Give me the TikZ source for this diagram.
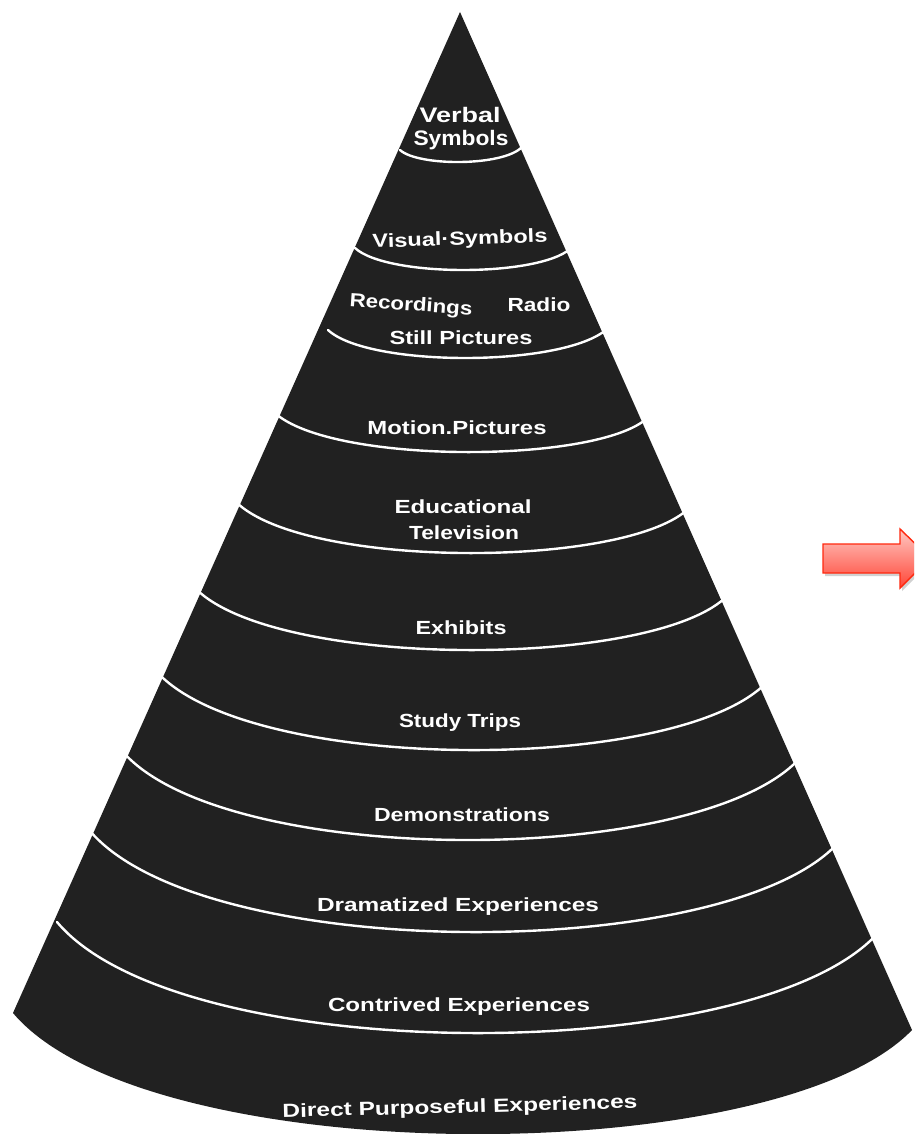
\documentclass[tikz,border=0pt]{standalone}
\usepackage{fontspec}
\setmainfont{Liberation Sans}
\usepackage{graphicx}
\newcommand{\lbl}[2]{\resizebox{#1pt}{\height}{#2}}
\newcommand{\ringcurve}[6]{%
  \pgfmathsetmacro{\rcax}{#1+0.3*(#3-#1)}%
  \pgfmathsetmacro{\rcbx}{#5-0.3*(#5-#3)}%
  \pgfmathsetmacro{\rcy}{(8*#4-#2-#6)/6}%
  \draw[ringline] (#1,#2) .. controls (\rcax,\rcy) and (\rcbx,\rcy) .. (#5,#6);%
}
\begin{document}
\begin{tikzpicture}[x=1pt,y=-1pt,
  conefill/.style={fill=black!87},
  ringline/.style={draw=white, line width=2.4pt, line cap=round},
  lab/.style={text=white, inner sep=0pt, font=\fontsize{19}{22}\selectfont\bfseries},
  arrowbody/.style={draw={rgb,255:red,255;green,40;blue,15}, line width=1.4pt, line join=miter,
     top color={rgb,255:red,255;green,200;blue,195}, bottom color={rgb,255:red,255;green,70;blue,55}},
  ]
\useasboundingbox (0,0) rectangle (914,1134);
\fill[white] (0,0) rectangle (914,1134);

% cone
\fill[conefill] (460,12) -- (13,1013) .. controls (147,1171.5) and (776,1171.5) .. (912,1030) -- cycle;

% ring lines
\ringcurve{400}{150}{460}{162}{522}{147}
\ringcurve{355}{248}{460}{270}{570}{249}
\ringcurve{328}{330}{462}{358}{607}{329}
\ringcurve{275}{413}{461}{452}{645}{420}
\ringcurve{236}{502}{463}{553}{687}{510}
\ringcurve{196}{589}{465}{650}{725}{598}
\ringcurve{157}{672}{468}{750}{766}{683}
\ringcurve{123}{752}{465}{840}{800}{758}
\ringcurve{90}{831}{468}{932}{838}{843}
\ringcurve{57}{922}{465}{1033}{877}{934}

% labels
\node[lab, font=\fontsize{21}{24}\selectfont\bfseries] (verbal) at (460,115) {\lbl{81}{Verbal}};
\node[lab, font=\fontsize{21}{24}\selectfont\bfseries] (symbols) at (461,140) {\lbl{95}{Symbols}};
\node[lab, rotate=2] (visual) at (460,240) {\lbl{175}{Visual·Symbols}};
\node[lab, rotate=-4] (recordings) at (411,306) {\lbl{123}{Recordings}};
\node[lab] (radio) at (539,305) {\lbl{63}{Radio}};
\node[lab] (still) at (461,338) {\lbl{143}{Still Pictures}};
\node[lab] (motion) at (457,428) {\lbl{179}{Motion.Pictures}};
\node[lab] (educational) at (463,507) {\lbl{137}{Educational}};
\node[lab] (television) at (464,533) {\lbl{110}{Television}};
\node[lab] (exhibits) at (461,628) {\lbl{91}{Exhibits}};
\node[lab] (study) at (460,723) {\lbl{122}{Study Trips}};
\node[lab] (demo) at (462,815) {\lbl{176}{Demonstrations}};
\node[lab] (dramatized) at (458,907) {\lbl{282}{Dramatized Experiences}};
\node[lab] (contrived) at (459,1007) {\lbl{262}{Contrived Experiences}};
\node[lab, rotate=1.5] (direct) at (460,1108) {\lbl{355}{Direct Purposeful Experiences}};

% red arrow (clipped at the right edge)
\begin{scope}
\clip (0,0) rectangle (914,1134);
\fill[black, opacity=0.18] (825,547) -- (902,547) -- (902,532) -- (932,561) -- (902,591) -- (902,576) -- (825,576) -- cycle;
\path[arrowbody] (823,544) -- (900,544) -- (900,529) -- (930,558) -- (900,588) -- (900,573) -- (823,573) -- cycle;
\end{scope}
\end{tikzpicture}
\end{document}
